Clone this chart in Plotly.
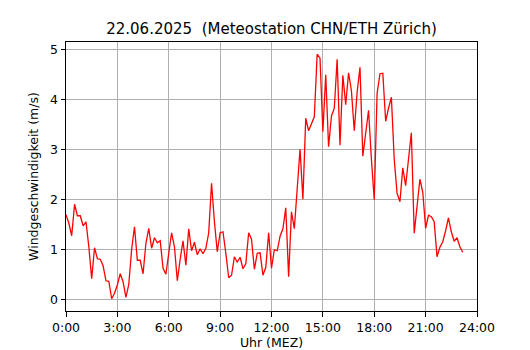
import plotly.graph_objects as go

# 10-minute measurement interval, starting 00:00
interval_min = 10

wind_speed = [
    1.69, 1.52, 1.27, 1.90, 1.67, 1.67, 1.47, 1.55, 1.05, 0.41,
    1.03, 0.81, 0.80, 0.67, 0.37, 0.36, 0.01, 0.12, 0.29, 0.51,
    0.35, 0.04, 0.30, 1.00, 1.45, 0.78, 0.78, 0.51, 1.12, 1.42,
    1.02, 1.23, 1.13, 1.17, 0.62, 0.50, 0.92, 1.33, 1.05, 0.37,
    0.80, 1.17, 0.68, 1.41, 0.97, 1.14, 0.89, 1.01, 0.91, 1.02,
    1.33, 2.32, 1.55, 0.95, 1.33, 1.35, 0.92, 0.43, 0.48, 0.85,
    0.74, 0.84, 0.61, 0.71, 1.33, 1.20, 0.60, 0.92, 0.93, 0.48,
    0.64, 1.33, 0.62, 0.99, 0.97, 1.26, 1.41, 1.83, 0.45, 1.75,
    1.41, 2.13, 3.00, 2.00, 3.62, 3.37, 3.53, 3.65, 4.90, 4.82,
    3.35, 4.49, 3.05, 3.66, 3.82, 4.80, 3.08, 4.48, 3.89, 4.53,
    4.17, 3.37, 4.14, 4.64, 2.86, 3.30, 3.78, 2.80, 1.99, 4.12,
    4.51, 4.52, 3.56, 3.82, 4.04, 2.80, 2.12, 1.95, 2.63, 2.27,
    2.79, 3.33, 1.32, 1.83, 2.40, 2.14, 1.42, 1.68, 1.65, 1.55,
    0.85, 1.04, 1.15, 1.37, 1.63, 1.35, 1.16, 1.23, 1.05, 0.94,
]

hours = [i * interval_min / 60 for i in range(len(wind_speed))]

x_tick_vals = [0, 3, 6, 9, 12, 15, 18, 21, 24]
x_tick_text = ["0:00", "3:00", "6:00", "9:00", "12:00", "15:00", "18:00", "21:00", "24:00"]
y_tick_vals = [0, 1, 2, 3, 4, 5]

title_text = "22.06.2025  (Meteostation CHN/ETH Zürich)"
x_label = "Uhr (MEZ)"
y_label = "Windgeschwindigkeit (m/s)"

FONT = "DejaVu Sans"
TICK_SIZE = 12.5

# the page body adds an 8px offset; the figure is sized so it fits the window
OFF = 8
W, H = 530 - OFF, 350 - OFF

fig = go.Figure()
fig.add_trace(go.Scatter(
    x=hours, y=wind_speed, mode="lines",
    line=dict(color="#ff0000", width=1.3),
    hoverinfo="x+y", showlegend=False,
))

ymin, ymax = min(wind_speed), max(wind_speed)
pad = (ymax - ymin) * 0.05

axis_common = dict(
    showline=True, linecolor="black", linewidth=1, mirror=True,
    ticks="outside", ticklen=4.5, tickwidth=1, tickcolor="black",
    showgrid=True, gridcolor="#b0b0b0", gridwidth=1.1,
    zeroline=False, automargin=False,
    tickfont=dict(family=FONT, size=TICK_SIZE, color="black"),
)

fig.update_layout(
    width=W, height=H,
    margin=dict(l=66 - OFF, r=53, t=42 - OFF, b=38.5, autoexpand=False),
    paper_bgcolor="white", plot_bgcolor="white",
    font=dict(family=FONT, color="black"),
    title=dict(
        text=title_text, x=(271.5 - OFF) / W, xanchor="center",
        y=1 - (28.5 - OFF) / H, yanchor="middle", automargin=False,
        font=dict(family=FONT, size=15, color="black"),
    ),
    xaxis=dict(
        range=[0, 24], tickvals=x_tick_vals, ticktext=x_tick_text,
        title=dict(text=x_label, standoff=0, font=dict(family=FONT, size=TICK_SIZE)),
        **axis_common,
    ),
    yaxis=dict(
        range=[ymin - pad, ymax + pad], tickvals=y_tick_vals,
        title=dict(text=y_label, standoff=8, font=dict(family=FONT, size=TICK_SIZE)),
        **axis_common,
    ),
)

fig.write_html("out.html")
